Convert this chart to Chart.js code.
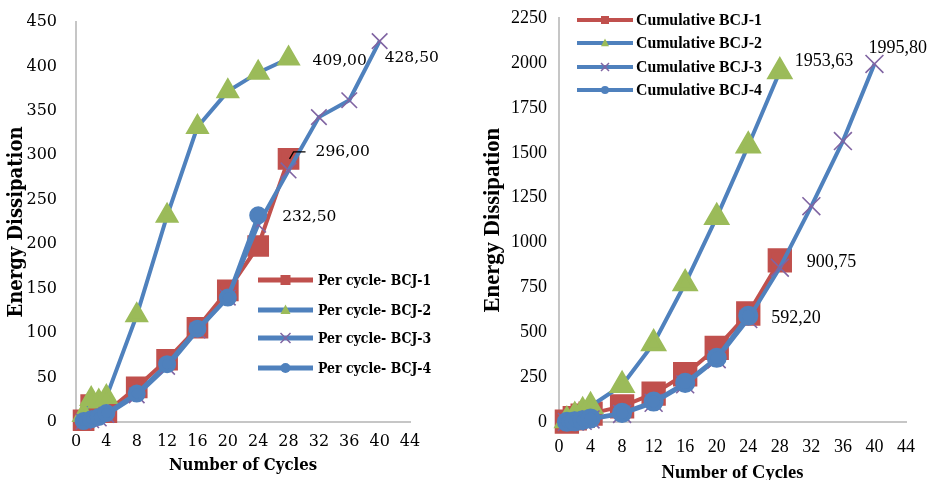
<!DOCTYPE html>
<html>
<head>
<meta charset="utf-8">
<script src="https://cdn.jsdelivr.net/npm/chart.js@4/dist/chart.umd.min.js"></script>
<style>
html,body{margin:0;padding:0;background:#fff;}
#wrap{position:relative;width:929px;height:480px;overflow:hidden;background:#fff;}
.box{position:absolute;top:0;height:480px;width:465px;}
</style>
</head>
<body>
<div id="wrap">
<div class="box" style="left:0"><canvas id="c1" width="465" height="480"></canvas></div>
<div class="box" style="left:464px"><canvas id="c2" width="465" height="480"></canvas></div>
</div>
<script>
// ---- data ----
const cyclesA = [1, 2, 3, 4, 8, 12, 16, 20, 24, 28];
const cyclesB = [1, 2, 3, 4, 8, 12, 16, 20, 24, 28, 32, 36, 40];
const cyclesC = [1, 2, 3, 4, 8, 12, 16, 20, 24];

const perBCJ1 = [2, 19, 14, 11, 39, 70, 106, 148, 198, 296];
const perBCJ2 = [8, 26, 23, 28, 120, 232, 332, 372, 393, 409];
const perBCJ3 = [0.5, 2, 4, 8, 30, 62, 103, 140, 222, 283, 343, 362, 428.5];
const perBCJ4 = [1, 3, 5.7, 10, 32, 65, 105, 140, 232.5];

const cumBCJ1 = [2, 21, 35, 47, 87, 158, 266, 413, 605, 900.75];
const cumBCJ2 = [8, 33, 60, 88, 205, 438, 772, 1142, 1540, 1953.63];
const cumBCJ3 = [0.5, 2.5, 6.5, 14.5, 45, 107, 210, 350, 574, 860, 1203, 1566, 1995.8];
const cumBCJ4 = [1, 4, 9.7, 19.7, 51, 114, 218, 358, 592.2];

const xTicks = [0, 4, 8, 12, 16, 20, 24, 28, 32, 36, 40, 44];
const leftLegend = ['Per cycle- BCJ-1', 'Per cycle- BCJ-2', 'Per cycle- BCJ-3', 'Per cycle- BCJ-4'];
const rightLegend = ['Cumulative BCJ-1', 'Cumulative BCJ-2', 'Cumulative BCJ-3', 'Cumulative BCJ-4'];

// ---- styles ----
const RED = '#c0504d', BLUE = '#4f81bd', GREEN = '#9bbb59', PURPLE = '#8064a2';
const SERIF_L = "'DejaVu Serif', serif";
const SERIF_LC = "'DejaVu Serif Condensed', 'DejaVu Serif', serif";
const TIMES = "'Liberation Serif', 'Times New Roman', serif";

function pts(xs, ys) { return xs.map((x, i) => ({x: x, y: ys[i]})); }

function drawMarker(ctx, style, x, y, s, color) {
  ctx.save();
  ctx.fillStyle = color; ctx.strokeStyle = color;
  if (style === 'rect') {
    ctx.fillRect(x - s / 2, y - s / 2, s, s);
  } else if (style === 'triangle') {
    ctx.beginPath();
    ctx.moveTo(x, y - s * 0.55); ctx.lineTo(x + s / 2, y + s * 0.4); ctx.lineTo(x - s / 2, y + s * 0.4);
    ctx.closePath(); ctx.fill();
  } else if (style === 'crossRot') {
    ctx.lineWidth = 1.5; ctx.beginPath();
    ctx.moveTo(x - s / 2, y - s / 2); ctx.lineTo(x + s / 2, y + s / 2);
    ctx.moveTo(x + s / 2, y - s / 2); ctx.lineTo(x - s / 2, y + s / 2); ctx.stroke();
  } else {
    ctx.beginPath(); ctx.arc(x, y, s / 2, 0, Math.PI * 2); ctx.fill();
  }
  ctx.restore();
}

const annotPlugin = {
  id: 'annot',
  afterDatasetsDraw(chart, args, o) {
    const ctx = chart.ctx;
    const xs = chart.scales.x, ys = chart.scales.y;
    ctx.save();
    ctx.fillStyle = '#000';
    ctx.font = o.labelFont;
    ctx.textAlign = 'left'; ctx.textBaseline = 'middle';
    o.labels.forEach(l => {
      const p = chart.data.datasets[l.ds].data[l.i];
      const px = xs.getPixelForValue(p.x), py = ys.getPixelForValue(p.y);
      ctx.fillText(l.text, px + l.dx, py + l.dy);
      if (l.leader) {
        ctx.strokeStyle = '#000'; ctx.lineWidth = 1.3;
        ctx.beginPath();
        ctx.moveTo(px + l.leader[0], py + l.leader[1]);
        ctx.lineTo(px + l.leader[2], py + l.leader[3]);
        ctx.lineTo(px + l.leader[4], py + l.leader[5]);
        ctx.stroke();
      }
    });
    ctx.restore();
    ctx.save();
    ctx.font = o.legendFont;
    ctx.textAlign = 'left'; ctx.textBaseline = 'middle';
    o.legend.forEach((name, i) => {
      const ds = chart.data.datasets[i];
      const y = o.legendY[i];
      ctx.strokeStyle = ds.borderColor; ctx.lineWidth = o.legendLineW;
      ctx.beginPath(); ctx.moveTo(o.legendX0, y); ctx.lineTo(o.legendX1, y); ctx.stroke();
      drawMarker(ctx, ds.pointStyle, (o.legendX0 + o.legendX1) / 2, y, o.legendMarker, ds.pointBackgroundColor);
      ctx.fillStyle = '#000';
      ctx.fillText(name, o.legendTextX, y + 1);
    });
    ctx.restore();
  }
};

function makeDatasets(v1, v2, v3, v4, big) {
  const k = big ? 1.15 : 1;
  return [
    {data: pts(cyclesA, v1), borderColor: RED, backgroundColor: RED, pointBackgroundColor: RED, pointBorderColor: RED,
     pointStyle: 'rect', pointRadius: 12.5 * k, borderWidth: 4, order: 4},
    {data: pts(cyclesA, v2), borderColor: BLUE, backgroundColor: GREEN, pointBackgroundColor: GREEN, pointBorderColor: GREEN,
     pointStyle: 'triangle', pointRadius: 10 * k, borderWidth: 4, order: 3},
    {data: pts(cyclesB, v3), borderColor: BLUE, backgroundColor: PURPLE, pointBackgroundColor: PURPLE, pointBorderColor: PURPLE,
     pointStyle: 'crossRot', pointRadius: 11 * k, pointBorderWidth: 1.6, borderWidth: 4, order: 2},
    {data: pts(cyclesC, v4), borderColor: BLUE, backgroundColor: BLUE, pointBackgroundColor: BLUE, pointBorderColor: BLUE,
     pointStyle: 'circle', pointRadius: 7 * k, borderWidth: 4, order: 1}
  ].map(d => Object.assign(d, {showLine: true, fill: false, tension: 0, clip: false, pointHoverRadius: d.pointRadius}));
}

function baseOptions(cfg) {
  return {
    responsive: false, animation: false, events: [],
    layout: {padding: cfg.padding},
    plugins: {legend: {display: false}, tooltip: {enabled: false}, annot: cfg.annot},
    scales: {
      x: {
        type: 'linear', min: 0, max: 44,
        afterBuildTicks: s => { s.ticks = xTicks.map(v => ({value: v})); },
        ticks: {autoSkip: false, maxRotation: 0, padding: cfg.xTickPad, color: '#000', font: cfg.tickFont,
                callback: v => String(v)},
        grid: {display: true, drawOnChartArea: false, drawTicks: false},
        border: {color: '#c6c6c6', width: 2},
        title: {display: true, text: 'Number of Cycles', color: '#000', font: cfg.xTitleFont, padding: cfg.xTitlePad},
        afterFit: s => { s.height = 58; }
      },
      y: {
        min: 0, max: cfg.yMax,
        ticks: {stepSize: cfg.yStep, padding: cfg.yTickPad, color: '#000', font: cfg.tickFont,
                callback: v => String(v)},
        grid: {display: true, drawOnChartArea: false, drawTicks: false},
        border: {color: '#c6c6c6', width: 2},
        title: {display: true, text: 'Energy Dissipation', color: '#000', font: cfg.yTitleFont, padding: cfg.yTitlePad},
        afterFit: s => { s.width = cfg.yWidth; s.paddingTop = 0; s.paddingBottom = 0; }
      }
    }
  };
}

new Chart(document.getElementById('c1'), {
  type: 'scatter',
  data: {datasets: makeDatasets(perBCJ1, perBCJ2, perBCJ3, perBCJ4, false)},
  options: baseOptions({
    padding: {top: 22, right: 55, bottom: 0, left: 0},
    yMax: 450, yStep: 50, yWidth: 76,
    tickFont: {family: SERIF_L, size: 16},
    xTickPad: 10, yTickPad: 19,
    xTitleFont: {family: SERIF_LC, size: 16.6, weight: 'bold'},
    yTitleFont: {family: SERIF_LC, size: 20, weight: 'bold'},
    xTitlePad: {top: 0, bottom: 4},
    yTitlePad: {top: 5, bottom: 0},
    annot: {
      labelFont: "15.5px " + SERIF_L,
      labels: [
        {ds: 1, i: 9, text: '409,00', dx: 24, dy: 3},
        {ds: 2, i: 12, text: '428,50', dx: 5, dy: 17},
        {ds: 0, i: 9, text: '296,00', dx: 27, dy: -7, leader: [1, 0, 5, -7, 17, -7]},
        {ds: 3, i: 8, text: '232,50', dx: 24, dy: 2}
      ],
      legend: leftLegend, legendFont: "bold 13.9px " + SERIF_LC,
      legendY: [280, 310, 338, 368], legendX0: 258, legendX1: 313, legendTextX: 318,
      legendLineW: 5, legendMarker: 10
    }
  }),
  plugins: [annotPlugin]
});

new Chart(document.getElementById('c2'), {
  type: 'scatter',
  data: {datasets: makeDatasets(cumBCJ1, cumBCJ2, cumBCJ3, cumBCJ4, true)},
  options: baseOptions({
    padding: {top: 17, right: 22, bottom: 0, left: 0},
    yMax: 2250, yStep: 250, yWidth: 95,
    tickFont: {family: TIMES, size: 18},
    xTickPad: 14, yTickPad: 12,
    xTitleFont: {family: TIMES, size: 18.5, weight: 'bold'},
    yTitleFont: {family: TIMES, size: 22.7, weight: 'bold'},
    xTitlePad: {top: 0, bottom: -4},
    yTitlePad: {top: 15.5, bottom: 0},
    annot: {
      labelFont: "18px " + TIMES,
      labels: [
        {ds: 1, i: 9, text: '1953,63', dx: 15, dy: -10},
        {ds: 2, i: 12, text: '1995,80', dx: -6, dy: -16},
        {ds: 0, i: 9, text: '900,75', dx: 27, dy: 2},
        {ds: 3, i: 8, text: '592,20', dx: 23, dy: 2}
      ],
      legend: rightLegend, legendFont: "bold 15.8px " + TIMES,
      legendY: [20, 43, 67, 90], legendX0: 113, legendX1: 169, legendTextX: 172,
      legendLineW: 4, legendMarker: 8
    }
  }),
  plugins: [annotPlugin]
});
</script>
</body>
</html>
